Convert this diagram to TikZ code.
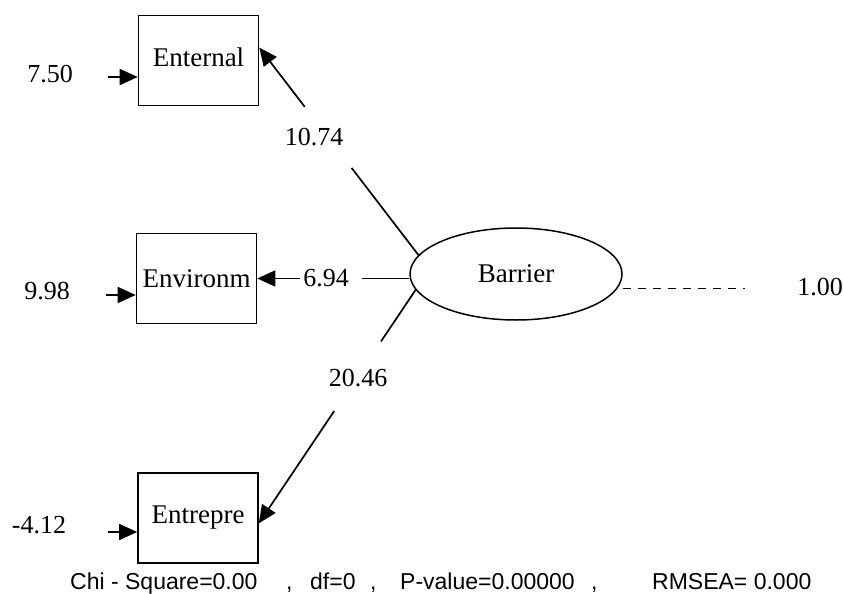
\documentclass[tikz,border=0pt]{standalone}
\usepackage{fontspec}
\setmainfont{Liberation Serif}
\setsansfont{Liberation Sans}
\usetikzlibrary{arrows.meta,calc,shapes.geometric}
\begin{document}
\begin{tikzpicture}[x=1pt,y=-1pt,
  obs/.style={draw,line width=1.6pt,minimum width=120pt,minimum height=90pt,font=\fontsize{27}{30}\selectfont,inner sep=0pt},
  lat/.style={draw,ellipse,line width=1.5pt,minimum width=212pt,minimum height=92pt,font=\fontsize{27}{30}\selectfont,inner sep=0pt},
  num/.style={font=\fontsize{26}{29}\selectfont,inner sep=0pt},
  conn/.style={line width=1.7pt},
  tip/.style={-{Triangle[length=18pt,width=16pt]}},
  foot/.style={font=\sffamily\fontsize{23}{26}\selectfont,anchor=base west,inner sep=0pt}]
\useasboundingbox (0,0) rectangle (843,594);
\fill[white] (0,0) rectangle (843,594);
% observed variables
\node[obs] (ent) at (198.5,60.5) {\raisebox{6pt}{Enternal}};
\node[obs] (env) at (196.5,278.5) {Environm};
\node[obs] (entr) at (198,518) {Entrepre};
% latent variable
\node[lat] (bar) at (516,274) {Barrier};
% error terms
\node[num] (e1) at (50,74) {7.50};
\node[num] (e2) at (47,291) {9.98};
\node[num] (e3) at (39,525) {-4.12};
\coordinate (s1) at (108,77);
\coordinate (s2) at (106,295);
\coordinate (s3) at (108,532);
\draw[conn,tip] (s1) -- (s1 -| ent.west);
\draw[conn,tip] (s2) -- (s2 -| env.west);
\draw[conn,tip] (s3) -- (s3 -| entr.west);
% loadings (with a gap for the label)
\path (bar.169) -- coordinate[pos=0.42] (a1) coordinate[pos=0.714] (a2) (ent.12);
\draw[conn] (bar.169) -- (a1);
\draw[conn,tip] (a2) -- (ent.12);
\node[num] (l1) at (314,137) {10.74};
\coordinate (b0) at (env.east -| bar.west);
\path (b0) -- coordinate[pos=0.313] (b1) coordinate[pos=0.717] (b2) (env.east);
\draw[conn] (b0) -- (b1);
\draw[conn,tip] (b2) -- (env.east);
\node[num] (l2) at (326,278) {6.94};
\path (bar.189) -- coordinate[pos=0.221] (c1) coordinate[pos=0.519] (c2) (entr.-5);
\draw[conn] (bar.189) -- (c1);
\draw[conn,tip] (c2) -- (entr.-5);
\node[num] (l3) at (358,378) {20.46};
% variance of latent
\node[num] (v) at (820,287) {1.00};
\coordinate (d1) at (623,288);
\coordinate (d2) at (745,288);
\draw[line width=1pt,dash pattern=on 8pt off 7pt] (d1) -- (d2);
% fit statistics
\node[foot] (f1) at (70,589) {Chi - Square=0.00};
\node[foot] (f2) at (286,589) {,};
\node[foot] (f3) at (310,589) {df=0};
\node[foot] (f4) at (370,589) {,};
\node[foot] (f5) at (400,589) {P-value=0.00000};
\node[foot] (f6) at (591,589) {,};
\node[foot] (f7) at (652,589) {RMSEA= 0.000};
\end{tikzpicture}
\end{document}
